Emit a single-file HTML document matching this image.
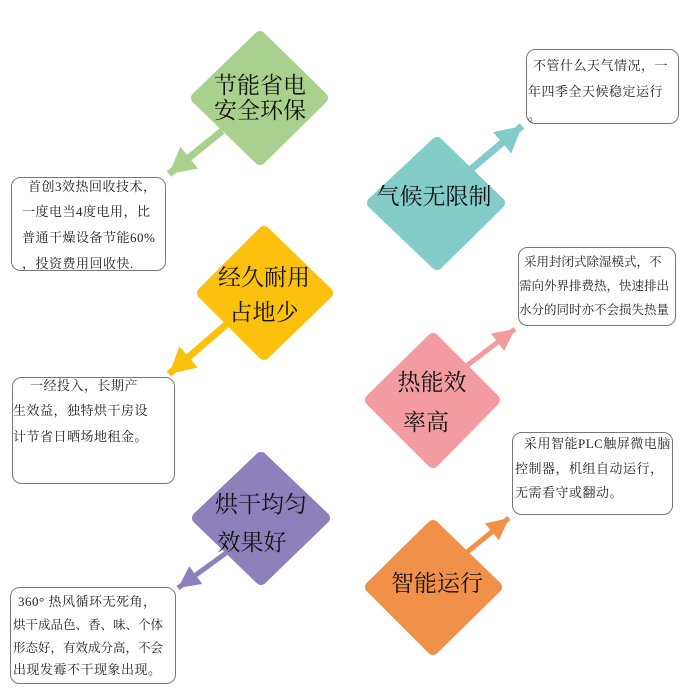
<!DOCTYPE html>
<html><head><meta charset="utf-8"><style>
html,body{margin:0;padding:0;background:#fff;}
svg{display:block}
.b{font-family:"Liberation Serif","Noto Serif CJK SC",serif;font-size:13px;fill:#222;letter-spacing:0.5px;}
.n{letter-spacing:0;font-size:12.5px;}
.d{font-family:"Liberation Serif","Noto Serif CJK SC",serif;font-size:23px;fill:#111;text-anchor:middle;}
</style></head><body>
<svg width="700" height="700" viewBox="0 0 700 700" xmlns="http://www.w3.org/2000/svg">
<defs>
<marker id="mg" markerUnits="userSpaceOnUse" markerWidth="30" markerHeight="30" refX="26" refY="14" orient="auto"><path d="M0,0 L26,14 L0,28z" fill="#a9d18e"/></marker>
<marker id="mt" markerUnits="userSpaceOnUse" markerWidth="30" markerHeight="30" refX="26" refY="14" orient="auto"><path d="M0,0 L26,14 L0,28z" fill="#84ccc9"/></marker>
<marker id="my" markerUnits="userSpaceOnUse" markerWidth="30" markerHeight="30" refX="26" refY="14" orient="auto"><path d="M0,0 L26,14 L0,28z" fill="#fcc10d"/></marker>
<marker id="mp" markerUnits="userSpaceOnUse" markerWidth="30" markerHeight="30" refX="22" refY="11" orient="auto"><path d="M0,0 L22,11 L0,22z" fill="#f29c9f"/></marker>
<marker id="mu" markerUnits="userSpaceOnUse" markerWidth="30" markerHeight="30" refX="22" refY="11" orient="auto"><path d="M0,0 L22,11 L0,22z" fill="#8e80bb"/></marker>
<marker id="mo" markerUnits="userSpaceOnUse" markerWidth="30" markerHeight="30" refX="22" refY="11" orient="auto"><path d="M0,0 L22,11 L0,22z" fill="#f19149"/></marker>
</defs>
<g stroke-linejoin="round" stroke-width="12">
<polygon points="260,37 322,98 260,159 197,98" fill="#a9d18e" stroke="#a9d18e"/>
<polygon points="437,143 499,203 437,264 373,203" fill="#84ccc9" stroke="#84ccc9"/>
<polygon points="264,232 327,293 264,354 203,293" fill="#fcc10d" stroke="#fcc10d"/>
<polygon points="433,339 494,400 433,462 371,400" fill="#f29c9f" stroke="#f29c9f"/>
<polygon points="261,458 324,518 261,579 198,518" fill="#8e80bb" stroke="#8e80bb"/>
<polygon points="433,526 496,587 433,649 371,587" fill="#f19149" stroke="#f19149"/>
</g>
<line x1="222" y1="131" x2="169" y2="174" stroke="#a9d18e" stroke-width="7" marker-end="url(#mg)"/>
<line x1="470" y1="170" x2="522" y2="126" stroke="#84ccc9" stroke-width="7" marker-end="url(#mt)"/>
<line x1="228" y1="323" x2="169" y2="374" stroke="#fcc10d" stroke-width="7" marker-end="url(#my)"/>
<line x1="465" y1="367" x2="515" y2="329" stroke="#f29c9f" stroke-width="5" marker-end="url(#mp)"/>
<line x1="226" y1="553" x2="178" y2="588" stroke="#8e80bb" stroke-width="5" marker-end="url(#mu)"/>
<line x1="466" y1="553" x2="509" y2="518" stroke="#f19149" stroke-width="5" marker-end="url(#mo)"/>
<polygon points="260,37 322,98 260,159 197,98" fill="#a9d18e"/>
<polygon points="437,143 499,203 437,264 373,203" fill="#84ccc9"/>
<polygon points="264,232 327,293 264,354 203,293" fill="#fcc10d"/>
<polygon points="433,339 494,400 433,462 371,400" fill="#f29c9f"/>
<polygon points="261,458 324,518 261,579 198,518" fill="#8e80bb"/>
<polygon points="433,526 496,587 433,649 371,587" fill="#f19149"/>
<text class="d" x="260" y="93">节能省电</text>
<text class="d" x="260" y="118">安全环保</text>
<text class="d" x="434" y="204">气候无限制</text>
<text class="d" x="264" y="285">经久耐用</text>
<text class="d" x="264" y="320">占地少</text>
<text class="d" x="432" y="390">热能效</text>
<text class="d" x="426" y="430">率高</text>
<text class="d" x="261" y="512">烘干均匀</text>
<text class="d" x="252" y="550">效果好</text>
<text class="d" x="437" y="591">智能运行</text>
<g fill="#fff" stroke="#777" stroke-width="1">
<rect x="11.5" y="177.5" width="154" height="93" rx="9"/>
<rect x="12.5" y="377.5" width="162" height="106" rx="9"/>
<rect x="526.5" y="49.5" width="152" height="74" rx="9"/>
<rect x="518.5" y="247.5" width="157" height="78" rx="9"/>
<rect x="512.5" y="432.5" width="160" height="82" rx="9"/>
<rect x="10.5" y="587.5" width="165" height="96" rx="9"/>
</g>
<g class="b">
<text x="28" y="191">首创3效热回收技术，</text>
<text x="22" y="216">一度电当4度电用，比</text>
<text x="22" y="242">普通干燥设备节能60%</text>
<text x="22" y="268">，投资费用回收快.</text>
<text x="30" y="390">一经投入，长期产</text>
<text x="13" y="415">生效益，独特烘干房设</text>
<text x="13" y="441">计节省日晒场地租金。</text>
<text x="533" y="70">不管什么天气情况，一</text>
<text x="528" y="96">年四季全天候稳定运行</text>
<text x="528" y="120">。</text>
<text class="n" x="524" y="266">采用封闭式除湿模式，不</text>
<text class="n" x="519" y="290">需向外界排费热，快速排出</text>
<text class="n" x="519" y="314">水分的同时亦不会损失热量</text>
<text x="524" y="448">采用智能PLC触屏微电脑</text>
<text x="515" y="473">控制器，机组自动运行，</text>
<text x="515" y="497">无需看守或翻动。</text>
<text x="18" y="606">360° 热风循环无死角，</text>
<text class="n" x="13" y="629">烘干成品色、香、味、个体</text>
<text class="n" x="13" y="652">形态好，有效成分高，不会</text>
<text x="13" y="674">出现发霉不干现象出现。</text>
</g>
</svg>
</body></html>
